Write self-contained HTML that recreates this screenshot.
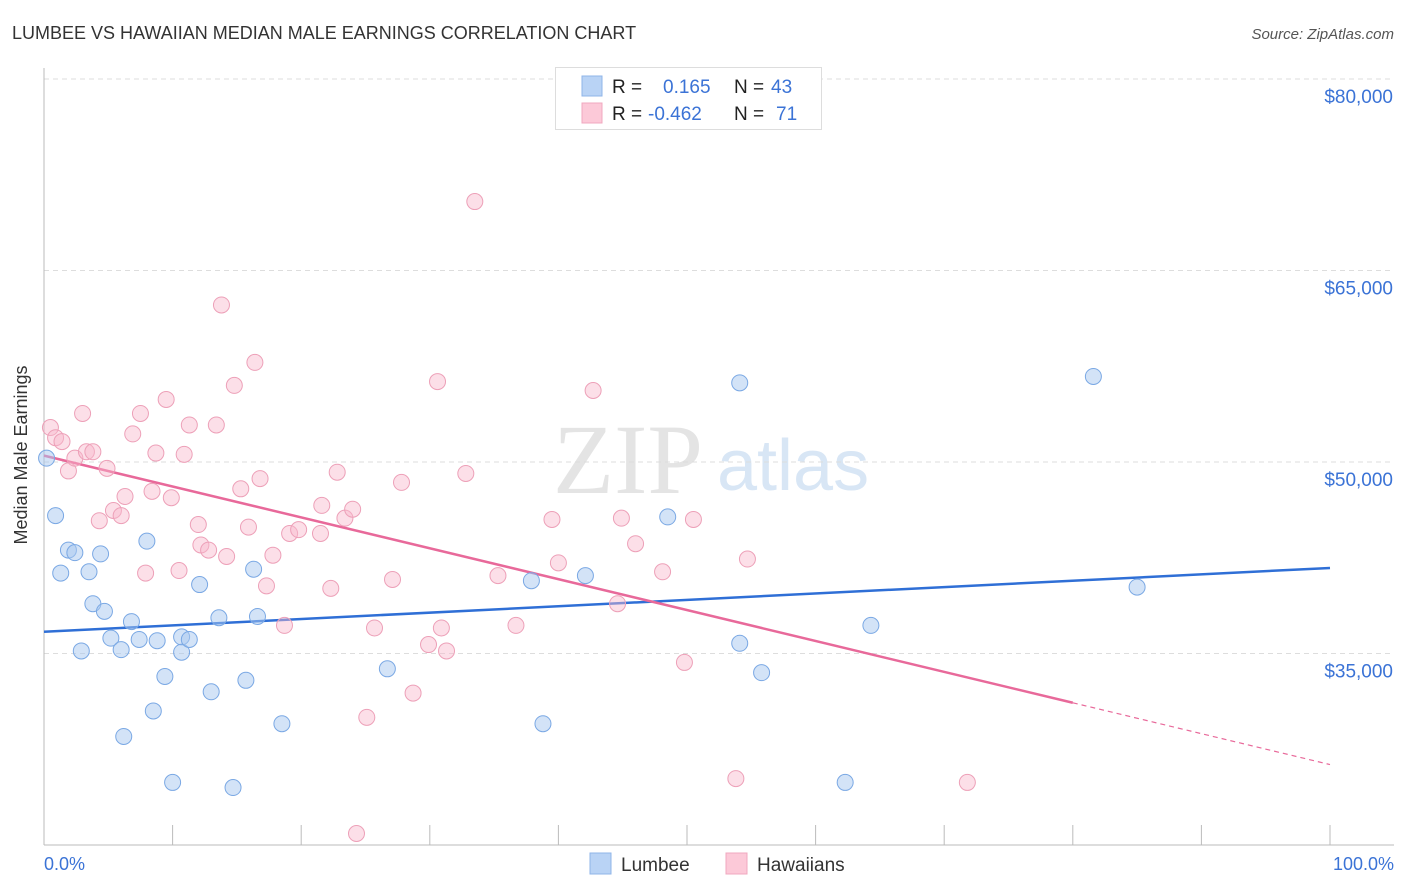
<!DOCTYPE html>
<html><head><meta charset="utf-8"><style>
body{margin:0;background:#fff;font-family:"Liberation Sans",sans-serif;}
svg{display:block}
</style></head><body>
<svg id="chart" width="1406" height="892">
<text x="12" y="39" font-size="18" fill="#333">LUMBEE VS HAWAIIAN MEDIAN MALE EARNINGS CORRELATION CHART</text>
<text x="1394" y="39" font-size="15" fill="#555" font-style="italic" text-anchor="end">Source: ZipAtlas.com</text>
<g>
<text x="553" y="493" font-size="100" fill="#e4e4e4" font-family="Liberation Serif,serif">ZIP</text>
<text x="717" y="490" font-size="72" fill="#d8e6f5">atlas</text>
</g>
<g id="grid"></g><g id="axes"></g><g id="trends"></g><g id="pts"></g>
<text x="27" y="455" font-size="18" fill="#333" text-anchor="middle" transform="rotate(-90 27 455)">Median Male Earnings</text>
<text x="44" y="870" font-size="18" fill="#3b73d6">0.0%</text>
<text x="1394" y="870" font-size="18" fill="#3b73d6" text-anchor="end">100.0%</text>
<g>
<rect x="555.5" y="67.5" width="266" height="62" fill="#fff" stroke="#ddd"/>
<rect x="582" y="76" width="20" height="20" fill="#b9d3f5" stroke="#8fb5e8"/>
<rect x="582" y="103" width="20" height="20" fill="#fcc9d8" stroke="#f0a8bf"/>
<text font-size="19" fill="#222"><tspan x="612" y="93">R =</tspan><tspan x="663" fill="#3b73d6">0.165</tspan><tspan x="734">N =</tspan><tspan x="771" fill="#3b73d6">43</tspan></text>
<text font-size="19" fill="#222"><tspan x="612" y="120">R =</tspan><tspan x="648" fill="#3b73d6">-0.462</tspan><tspan x="734">N =</tspan><tspan x="776" fill="#3b73d6">71</tspan></text>
</g>
<g>
<rect x="590" y="853" width="21" height="21" fill="#b9d3f5" stroke="#8fb5e8"/>
<text x="621" y="871" font-size="19" fill="#333">Lumbee</text>
<rect x="726" y="853" width="21" height="21" fill="#fcc9d8" stroke="#f0a8bf"/>
<text x="757" y="871" font-size="19" fill="#333">Hawaiians</text>
</g>
</svg>
<script>
const yTicks=[35000,50000,65000,80000];
const yTickLabels=["$35,000","$50,000","$65,000","$80,000"];
const xTicks=[0,10,20,30,40,50,60,70,80,90,100];
const lumbeeX=[0.2,0.9,1.9,2.4,1.3,3.5,4.4,3.8,4.7,2.9,5.2,6.0,6.8,7.4,8.8,8.0,9.4,8.5,6.2,10.0,10.7,10.7,11.3,12.1,13.0,13.6,15.7,16.3,16.6,14.7,18.5,26.7,37.9,38.8,42.1,48.5,54.1,54.1,55.8,62.3,64.3,81.6,85.0];
const lumbeeY=[50300,45800,43100,42900,41300,41400,42800,38900,38300,35200,36200,35300,37500,36100,36000,43800,33200,30500,28500,24900,36300,35100,36100,40400,32000,37800,32900,41600,37900,24500,29500,33800,40700,29500,41100,45700,56200,35800,33500,24900,37200,56700,40200];
const hawX=[0.5,0.9,1.4,1.9,3.0,2.4,3.3,3.8,4.9,4.3,5.4,6.0,6.3,6.9,7.5,7.9,8.4,8.7,9.5,9.9,10.5,10.9,11.3,12.0,12.2,12.8,13.4,13.8,14.2,14.8,15.3,15.9,16.4,16.8,17.3,17.8,18.7,19.1,19.8,21.5,21.6,22.3,22.8,23.4,24.0,24.3,25.1,25.7,27.1,27.8,28.7,29.9,30.6,30.9,31.3,32.8,33.5,35.3,36.7,39.5,40.0,42.7,44.6,44.9,46.0,48.1,49.8,50.5,53.8,54.7,71.8];
const hawY=[52700,51900,51600,49300,53800,50300,50800,50800,49500,45400,46200,45800,47300,52200,53800,41300,47700,50700,54900,47200,41500,50600,52900,45100,43500,43100,52900,62300,42600,56000,47900,44900,57800,48700,40300,42700,37200,44400,44700,44400,46600,40100,49200,45600,46300,20900,30000,37000,40800,48400,31900,35700,56300,37000,35200,49100,70400,41100,37200,45500,42100,55600,38900,45600,43600,41400,34300,45500,25200,42400,24900];
const lumbeeTrend=[36700,41700];
const hawTrend=[50500,26300];
const hawSolidEndX=80;
const NS="http://www.w3.org/2000/svg";
const X=v=>44+v*12.86;
const Y=v=>79+(80000-v)/78.33;
function mk(tag,attrs,parent){const e=document.createElementNS(NS,tag);for(const k in attrs)e.setAttribute(k,attrs[k]);document.getElementById(parent).appendChild(e);return e;}
yTicks.forEach((t,i)=>{
 const l=mk('line',{x1:44,x2:1394,y1:Y(t),y2:Y(t),stroke:'#ddd','stroke-dasharray':'5,4'},'grid');
 
 
 const tx=mk('text',{x:1393,y:Y(t)+24,'font-size':19,fill:'#3b73d6','text-anchor':'end'},'grid');
 tx.textContent=yTickLabels[i];
 
 
});
const ax=mk('line',{x1:44,x2:44,y1:68,y2:845,stroke:'#bbb'},'axes');


const bx=mk('line',{x1:44,x2:1394,y1:845,y2:845,stroke:'#bbb'},'axes');


xTicks.forEach(t=>{
 const k=mk('line',{x1:X(t),x2:X(t),y1:825,y2:845,stroke:'#bbb'},'axes');
 
 
});
lumbeeX.forEach((x,i)=>{
 const c=mk('circle',{cx:X(x),cy:Y(lumbeeY[i]),r:8,fill:'rgba(168,200,240,0.5)',stroke:'#7aa8e4','stroke-width':1},'pts');
 
 
});
hawX.forEach((x,i)=>{
 const c=mk('circle',{cx:X(x),cy:Y(hawY[i]),r:8,fill:'rgba(248,184,204,0.45)',stroke:'#eda0b8','stroke-width':1},'pts');
 
 
});
const lt=mk('line',{x1:X(0),y1:Y(lumbeeTrend[0]),x2:X(100),y2:Y(lumbeeTrend[1]),stroke:'#2f6fd6','stroke-width':2.5},'trends');


const hm=hawTrend[0]+(hawTrend[1]-hawTrend[0])*hawSolidEndX/100;
const ht=mk('line',{x1:X(0),y1:Y(hawTrend[0]),x2:X(hawSolidEndX),y2:Y(hm),stroke:'#e8699a','stroke-width':2.5},'trends');


const hd=mk('line',{x1:X(hawSolidEndX),y1:Y(hm),x2:X(100),y2:Y(hawTrend[1]),stroke:'#e8699a','stroke-width':1.2,'stroke-dasharray':'5,4'},'trends');


</script>
</body></html>
